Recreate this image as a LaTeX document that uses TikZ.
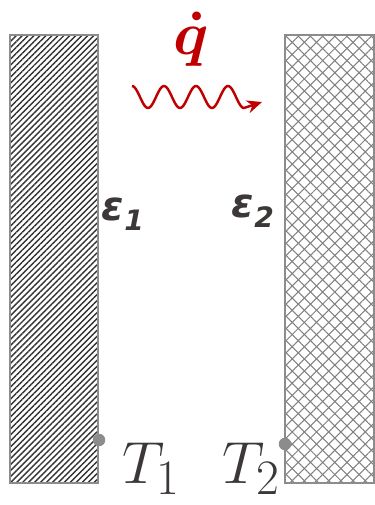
\documentclass[tikz,border=0pt]{standalone}
\usepackage{amsmath}
\usepackage{fontspec}
\newfontfamily\epsfont{DejaVu Sans}
\usetikzlibrary{patterns.meta, arrows.meta}
\definecolor{heatred}{RGB}{192,0,0}
\definecolor{wallgray}{RGB}{140,140,140}
\definecolor{textgray}{RGB}{60,56,56}

\begin{document}
\begin{tikzpicture}[x=0.02cm, y=-0.02cm, >={Stealth[length=3mm, width=2.6mm]}]
    \useasboundingbox (0,0) rectangle (375,505);
    \tikzset{
        wall/.style={draw=wallgray, line width=1.6pt},
        tdot/.style={fill=wallgray, circle, inner sep=0pt, minimum size=0.25cm},
        emiss/.style={text=textgray, font=\epsfont\bfseries\itshape\fontsize{23}{25}\selectfont},
        temp/.style={text=textgray, font=\fontsize{24.88}{26}\selectfont, anchor=base west, inner sep=0pt}
    }
    % Walls
    \fill[pattern={Lines[angle=45, distance=2.4pt, line width=0.8pt]}, pattern color=black!80]
        (10,35) rectangle (98,483);
    \draw[wall] (10,35) rectangle (98,483);
    \fill[pattern={Lines[angle=45, distance=4.9pt, line width=0.6pt]}, pattern color=gray]
        (285,35) rectangle (374,483);
    \fill[pattern={Lines[angle=-45, distance=4.9pt, line width=0.6pt]}, pattern color=gray]
        (285,35) rectangle (374,483);
    \draw[wall] (285,35) rectangle (374,483);

    % Nodes
    \node[text=heatred, font=\fontsize{24.88}{26}\selectfont, anchor=base, inner sep=0pt] (q) at (191,54)
        {\scalebox{1.4}{$\boldsymbol{\dot{q}}$}};
    \coordinate (wend) at (262,102);
    \node[emiss] (eps1) at (123,214) {ε\raisebox{-0.25em}{\fontsize{16}{17}\selectfont 1}};
    \node[emiss] (eps2) at (253,211) {ε\raisebox{-0.25em}{\fontsize{16}{17}\selectfont 2}};
    \node[tdot] (dot1) at (99,440) {};
    \node[tdot] (dot2) at (285,444) {};
    \node[temp] (t1) at (122,483) {\scalebox{1.36}{$T_1$}};
    \node[temp] (t2) at (222,483) {\scalebox{1.36}{$T_2$}};

    % Connections
    \draw[->, heatred, line width=1.4pt, line join=round]
        plot[domain=0:112, samples=80, smooth] ({132+\x}, {97-11*cos(\x/32*360)}) -- (wend);
\end{tikzpicture}
\end{document}
